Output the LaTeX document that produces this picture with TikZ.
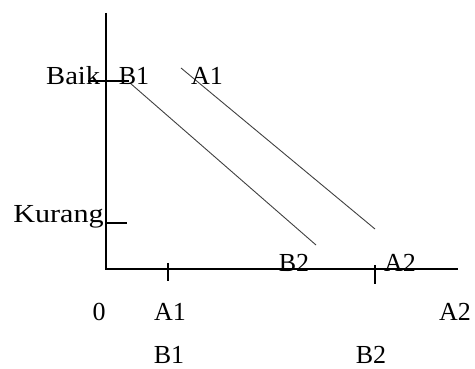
\documentclass[tikz,border=0pt]{standalone}
\usepackage{fontspec}
\usepackage{graphicx}
\setmainfont{Liberation Serif}
\begin{document}
\begin{tikzpicture}[x=1pt,y=-1pt,
  lbl/.style={anchor=base,inner sep=0pt,font=\fontsize{26}{30}\selectfont},
  axis/.style={line width=1.1pt,black},
  curve/.style={line width=0.9pt,black!75}]
\useasboundingbox (0,0) rectangle (475,369);
% axes
\coordinate (ytop) at (106,13);
\coordinate (O) at (106,269);
\coordinate (xend) at (458,269);
\draw[axis] (ytop) -- (O) -- (xend);
% y ticks
\coordinate (bk1) at (88,81);
\coordinate (bk2) at (129,81);
\draw[axis] (bk1) -- (bk2);
\coordinate (kr1) at (106,223);
\coordinate (kr2) at (127,223);
\draw[axis] (kr1) -- (kr2);
% x ticks
\coordinate (t1a) at (168,263);
\coordinate (t1b) at (168,281);
\draw[axis] (t1a) -- (t1b);
\coordinate (t2a) at (375,265);
\coordinate (t2b) at (375,284);
\draw[axis] (t2a) -- (t2b);
% diagonal lines
\coordinate (Bs) at (130,83);
\coordinate (Be) at (316,245);
\draw[curve] (Bs) -- (Be);
\coordinate (As) at (181,68);
\coordinate (Ae) at (375,229);
\draw[curve] (As) -- (Ae);
% labels
\node[lbl,anchor=base west] (baik) at (46,85) {\scalebox{1.1}[1]{Baik}};
\node[lbl] (b1t) at (134,85) {B1};
\node[lbl] (a1t) at (207,85) {A1};
\node[lbl,anchor=base east] (kurang) at (104,223) {\scalebox{1.16}[1]{Kurang}};
\node[lbl] (b2x) at (294,272) {B2};
\node[lbl] (a2x) at (400,272) {A2};
\node[lbl] (zero) at (99,320) {0};
\node[lbl] (a1b) at (170,320) {A1};
\node[lbl] (a2r) at (455,320) {A2};
\node[lbl] (b1b) at (169,363) {B1};
\node[lbl] (b2b) at (371,363) {B2};
\end{tikzpicture}
\end{document}
